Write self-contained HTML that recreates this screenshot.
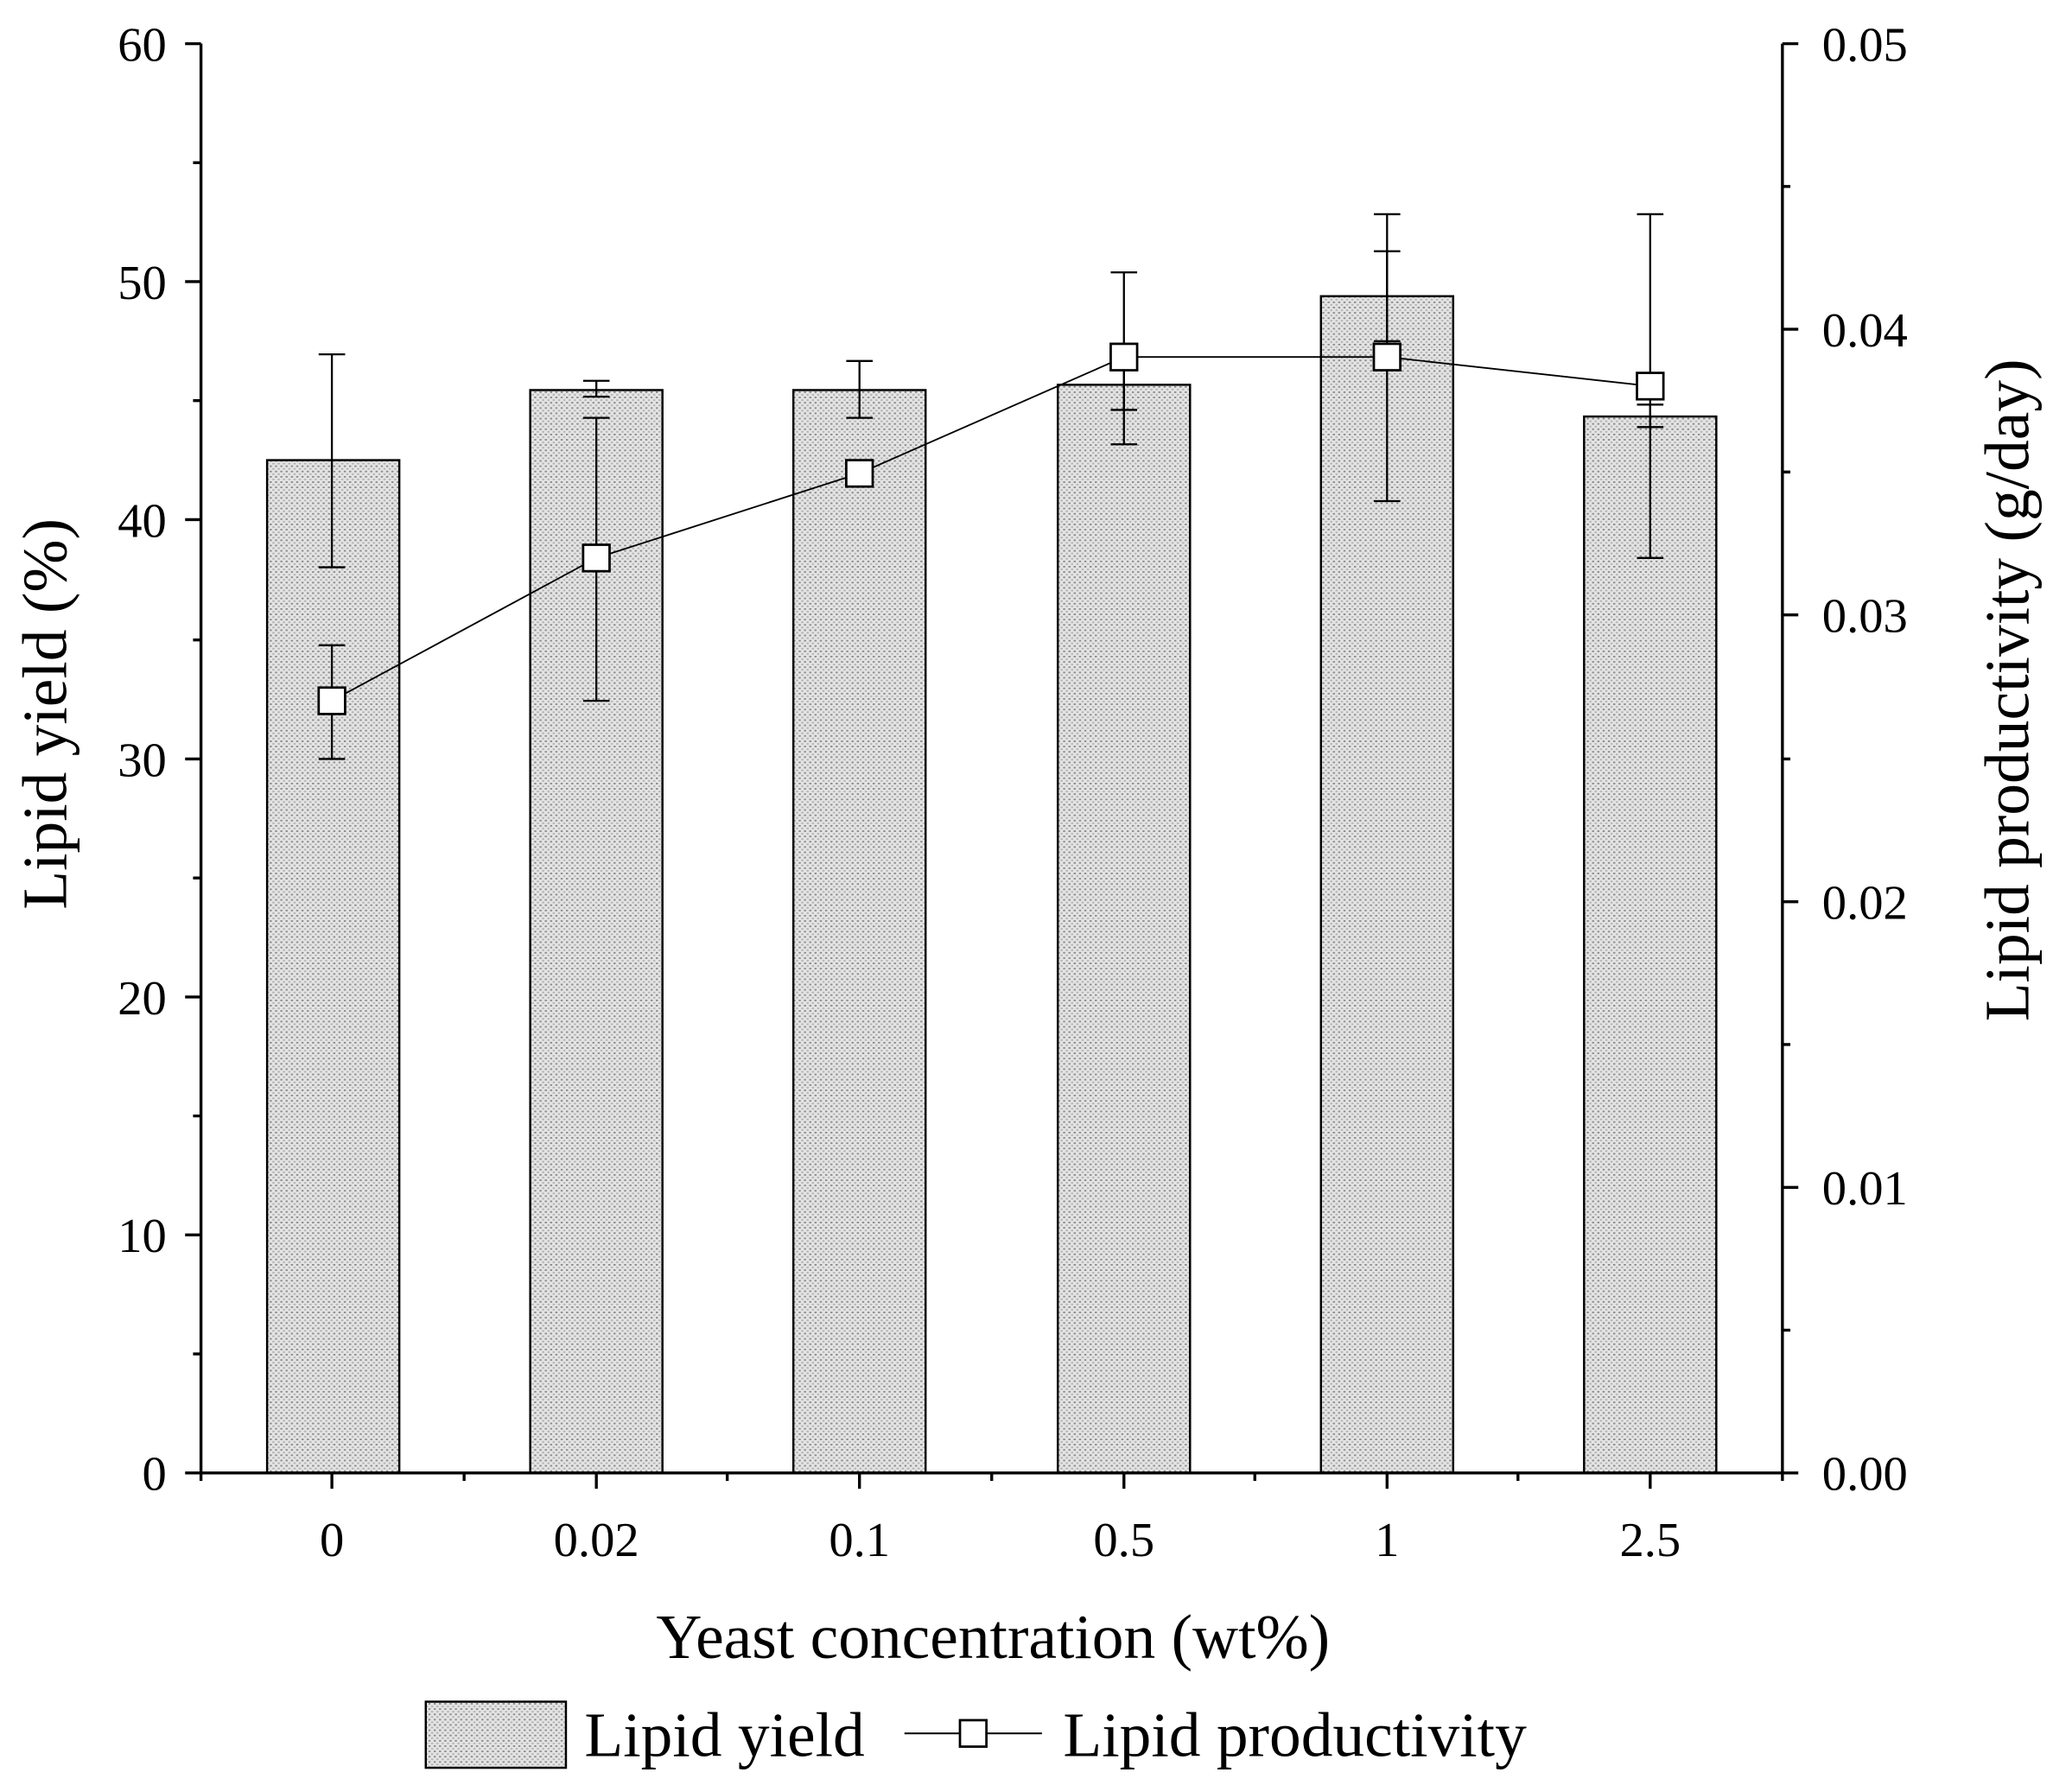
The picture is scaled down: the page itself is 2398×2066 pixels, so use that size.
<!DOCTYPE html>
<html><head><meta charset="utf-8"><style>html,body{margin:0;padding:0;background:#fff}svg{display:block}</style></head>
<body>
<svg width="2398" height="2066" viewBox="0 0 1567 1350" xmlns="http://www.w3.org/2000/svg" font-family="Liberation Serif, serif">
<defs>
<pattern id="dots" width="4" height="4" patternUnits="userSpaceOnUse">
<rect width="4" height="4" fill="#e4e4e4"/>
<rect x="0" y="0" width="1.6" height="1.2" fill="#8a8a8a"/>
<rect x="2" y="2" width="1.6" height="1.2" fill="#b0b0b0"/>
</pattern>
</defs>
<rect width="1567" height="1350" fill="#fff"/>
<g stroke="#000" stroke-width="1.6" fill="url(#dots)">
<rect x="202" y="348" width="100" height="766"/>
<rect x="401" y="295" width="100" height="819"/>
<rect x="600" y="295" width="100" height="819"/>
<rect x="800" y="291" width="100" height="823"/>
<rect x="999" y="224" width="100" height="890"/>
<rect x="1198" y="315" width="100" height="799"/>
</g>
<g stroke="#000" stroke-width="1.5" fill="none">
<path d="M251 268V429M241 268h20M241 429h20"/>
<path d="M451 288V300M441 288h20M441 300h20"/>
<path d="M650 273V316M640 273h20M640 316h20"/>
<path d="M850 206V336M840 206h20M840 336h20"/>
<path d="M1049 190V258M1039 190h20M1039 258h20"/>
<path d="M1248 306V323M1238 306h20M1238 323h20"/>
<path d="M251 488V574M241 488h20M241 574h20"/>
<path d="M451 316V530M441 316h20M441 530h20"/>
<path d="M850 270V310M840 310h20"/>
<path d="M1049 162V379M1039 162h20M1039 379h20"/>
<path d="M1248 162V422M1238 162h20M1238 422h20"/>
<polyline stroke-width="1.2" points="251,530 451,422 650,358 850,270 1049,270 1248,292"/>
</g>
<g stroke="#000" stroke-width="1.8" fill="#fff">
<rect x="241" y="520" width="20" height="20"/>
<rect x="441" y="412" width="20" height="20"/>
<rect x="640" y="348" width="20" height="20"/>
<rect x="840" y="260" width="20" height="20"/>
<rect x="1039" y="260" width="20" height="20"/>
<rect x="1238" y="282" width="20" height="20"/>
</g>
<g stroke="#000" stroke-width="2.2" fill="none">
<path d="M152 33V1114H1348V33"/>
<path d="M140 33h12M140 213h12M140 393h12M140 574h12M140 754h12M140 934h12M140 1114h12"/>
<path d="M146 123h6M146 303h6M146 484h6M146 664h6M146 844h6M146 1024h6"/>
<path d="M1348 33h12M1348 249h12M1348 465h12M1348 682h12M1348 898h12M1348 1114h12"/>
<path d="M1348 141h6M1348 357h6M1348 574h6M1348 790h6M1348 1006h6"/>
<path d="M251 1114v12M451 1114v12M650 1114v12M850 1114v12M1049 1114v12M1248 1114v12"/>
<path d="M152 1114v6M351 1114v6M550 1114v6M750 1114v6M949 1114v6M1148 1114v6M1348 1114v6"/>
</g>
<g font-size="37" fill="#000">
<g text-anchor="end">
<text x="126" y="46">60</text><text x="126" y="226">50</text><text x="126" y="406">40</text>
<text x="126" y="587">30</text><text x="126" y="767">20</text><text x="126" y="947">10</text><text x="126" y="1127">0</text>
</g>
<g text-anchor="start">
<text x="1378" y="46">0.05</text><text x="1378" y="262">0.04</text><text x="1378" y="478">0.03</text>
<text x="1378" y="695">0.02</text><text x="1378" y="911">0.01</text><text x="1378" y="1127">0.00</text>
</g>
<g text-anchor="middle">
<text x="251" y="1177">0</text><text x="451" y="1177">0.02</text><text x="650" y="1177">0.1</text>
<text x="850" y="1177">0.5</text><text x="1049" y="1177">1</text><text x="1248" y="1177">2.5</text>
</g>
</g>
<g font-size="48" fill="#000" text-anchor="middle">
<text x="751" y="1254">Yeast concentration (wt%)</text>
<text transform="translate(50,540) rotate(-90)">Lipid yield (%)</text>
<text transform="translate(1534,522) rotate(-90)">Lipid productivity (g/day)</text>
</g>
<rect x="322" y="1287" width="106" height="50" fill="url(#dots)" stroke="#000" stroke-width="1.6"/>
<text x="442" y="1328" font-size="48">Lipid yield</text>
<path d="M684 1311h42M746 1311h42" stroke="#000" stroke-width="1.3"/>
<rect x="726" y="1301" width="20" height="20" fill="#fff" stroke="#000" stroke-width="1.8"/>
<text x="804" y="1328" font-size="48">Lipid productivity</text>
</svg>
</body></html>
